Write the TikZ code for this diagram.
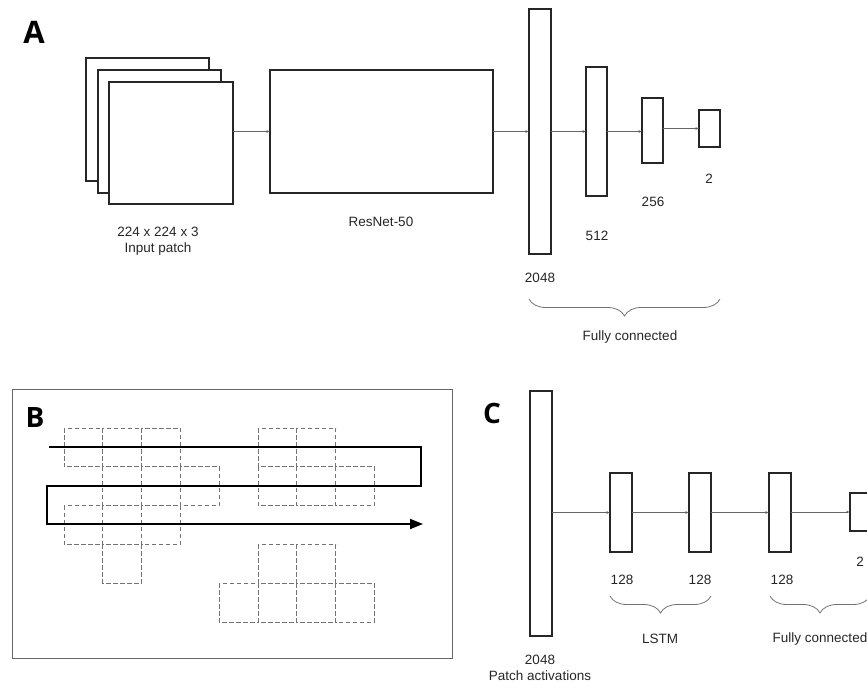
\documentclass[tikz,border=0pt]{standalone}
\usepackage{fontspec}
\setmainfont{Liberation Sans}
\newfontfamily\panelfont{Open Sans}
\usetikzlibrary{arrows.meta,decorations.pathreplacing}
\tikzset{>={Latex[length=3.5pt,width=3pt]},every node/.style={font=\fontsize{13.5}{16}\selectfont,text=black!85},
layer/.style={draw=black!85,line width=1.2pt,inner sep=0,outer sep=0},
flow/.style={->,draw=black!60,line width=.8pt},
cell/.style={draw=black!55,dash pattern=on 4.5pt off 2.5pt,line width=.8pt},
brc/.style={decorate,decoration={brace,mirror,amplitude=17pt},draw=black!55,line width=.8pt},
panel/.style={font=\panelfont\bfseries\fontsize{28}{30}\selectfont,text=black}}
\newcommand{\sq}{38.8}
\begin{document}
\begin{tikzpicture}[x=1pt,y=-1pt]
\useasboundingbox (0,0) rectangle (867,693);
% A
\node[panel,font=\panelfont\bfseries\fontsize{31}{33}\selectfont] (la) at (34,32) {A};
\node[layer,fill=white,minimum width=123,minimum height=123] (in3) at (147.5,119.5) {};
\node[layer,fill=white,minimum width=123,minimum height=123] (in2) at (159.5,131.5) {};
\node[layer,fill=white,minimum width=124,minimum height=122] (in1) at (171,143) {};
\node[layer,minimum width=223,minimum height=123] (res) at (381.5,131.5) {};
\node[layer,minimum width=22,minimum height=245] (f1) at (540,131.5) {};
\node[layer,minimum width=21,minimum height=129] (f2) at (596.5,131.5) {};
\node[layer,minimum width=21,minimum height=65] (f3) at (652.5,130.5) {};
\node[layer,minimum width=21,minimum height=37] (f4) at (709.5,128.5) {};
\draw[flow] (in1.east|-res.west)--(res.west);
\draw[flow] (res.east)--(f1.west|-res.east);
\draw[flow] (f1.east|-res.east)--(f2.west|-res.east);
\draw[flow] (f2.east|-res.east)--(f3.west|-res.east);
\draw[flow] (f3.east|-f4.west)--(f4.west);
\node[align=center] (tin) at (158,241) {224 x 224 x 3\\Input patch};
\node (tres) at (381,222) {ResNet-50};
\node (t1) at (540,278) {2048};
\node (t2) at (597,236) {512};
\node (t3) at (653,202) {256};
\node (t4) at (709,179) {2};
\draw[brc] (529,299)--(720,299);
\node (tfc) at (630,337) {Fully connected};
% B
\draw[draw=black!60,line width=1pt] (12,389) rectangle (452,658);
\node[panel] (lb) at (35,418) {B};
\foreach \c/\r in {0/0,1/0,2/0,1/1,2/1,3/1,0/2,1/2,2/2,1/3,5/0,6/0,5/1,6/1,7/1,5/3,6/3,4/4,5/4,6/4,7/4}
  \draw[cell] (64+\c*\sq,428+\r*\sq) rectangle ++(\sq,\sq);
\draw[line width=1.8pt,-{Triangle[length=13pt,width=10pt]}] (49,447)--(421,447)--(421,486)--(47,486)--(47,524)--(423,524);
% C
\node[panel] (lc) at (492,413) {C};
\node[layer,minimum width=22,minimum height=245] (p) at (541,513.5) {};
\node[layer,minimum width=22,minimum height=79] (l1) at (621,512.5) {};
\node[layer,minimum width=22,minimum height=79] (l2) at (700,512.5) {};
\node[layer,minimum width=22,minimum height=79] (h1) at (780,512.5) {};
\node[layer,minimum width=21,minimum height=38] (o) at (860.5,512) {};
\draw[flow] (p.east|-l1.west)--(l1.west);
\draw[flow] (l1.east)--(l2.west);
\draw[flow] (l2.east)--(h1.west);
\draw[flow] (h1.east|-o.west)--(o.west);
\node (s1) at (622,580) {128};
\node (s2) at (700,580) {128};
\node (s3) at (782,580) {128};
\node (s4) at (860,562) {2};
\draw[brc] (610,596)--(711,596);
\draw[brc] (770,596)--(870,596);
\node (tl) at (660,639) {LSTM};
\node (tf) at (820,639) {Fully connected};
\node[align=center] (tp) at (540,668) {2048\\Patch activations};
\end{tikzpicture}
\end{document}
